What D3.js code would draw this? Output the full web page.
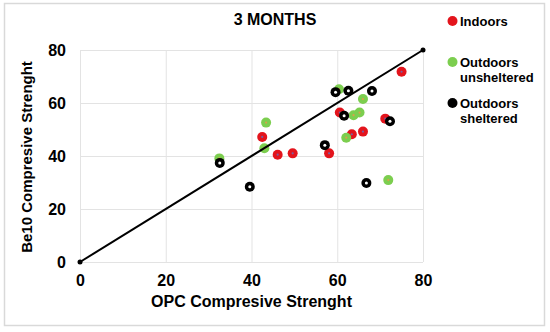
<!DOCTYPE html>
<meta charset="utf-8">
<script src="https://d3js.org/d3.v7.min.js"></script>
<style>
body { margin: 0; background: #fff; }
text { font-family: "Liberation Sans", Arial, sans-serif; font-weight: bold; fill: #000; }
</style>
<body>
<div id="chart"></div>
<script>
// data
var seriesNames = ['Indoors', 'Outdoors unsheltered', 'Outdoors sheltered'];
var indoorsX = [75.0, 42.5, 46.1, 49.6, 58.1, 60.6, 63.4, 66.0, 71.2];
var indoorsY = [71.8, 47.2, 40.5, 41.0, 41.0, 56.4, 48.2, 49.2, 54.1];
var unshelteredX = [32.5, 43.4, 43.0, 60.4, 66.0, 63.8, 65.2, 62.1, 71.9];
var unshelteredY = [39.1, 52.6, 42.9, 65.2, 61.5, 55.4, 56.4, 46.9, 30.9];
var shelteredX = [32.6, 39.6, 57.1, 59.6, 62.6, 68.1, 61.6, 72.3, 66.8];
var shelteredY = [37.4, 28.4, 44.1, 64.1, 64.6, 64.5, 55.2, 53.1, 29.8];
var lineX = [0, 80];
var lineY = [0, 80];
var tickValues = [0, 20, 40, 60, 80];

var W = 550, H = 332;
var margin = {left: 80, right: 127, top: 50, bottom: 70};

var svg = d3.select('#chart').append('svg')
    .attr('width', W)
    .attr('height', H);

// outer frame
svg.append('rect')
    .attr('x', 4.5).attr('y', 3.5)
    .attr('width', 540).attr('height', 322)
    .attr('fill', 'none')
    .attr('stroke', '#d9d9d9')
    .attr('stroke-width', 1.5);

var x = d3.scaleLinear().domain([0, 80]).range([margin.left, W - margin.right]);
var y = d3.scaleLinear().domain([0, 80]).range([H - margin.bottom, margin.top]);

// grid
var xAxis = d3.axisBottom(x).tickValues(tickValues).tickSize(-(y(0) - y(80))).tickPadding(10);
var yAxis = d3.axisLeft(y).tickValues(tickValues).tickSize(-(x(80) - x(0))).tickPadding(14);

var gx = svg.append('g')
    .attr('transform', 'translate(0,' + y(0) + ')')
    .call(xAxis);
var gy = svg.append('g')
    .attr('transform', 'translate(' + x(0) + ',0)')
    .call(yAxis);

[gx, gy].forEach(function(g) {
    g.select('.domain').remove();
    g.selectAll('line').attr('stroke', '#e3e3e3').attr('stroke-width', 1);
    g.selectAll('text').style('font-size', '16px').style('font-weight', 'bold')
        .style('font-family', '"Liberation Sans", Arial, sans-serif').attr('fill', '#000');
});
gx.selectAll('text').attr('dy', '0.71em').attr('y', 13);
gy.selectAll('text').attr('x', -14);

// series
var series = [
    {name: seriesNames[0], xs: indoorsX, ys: indoorsY, color: '#e3141c', center: '#7a5fa0', cr: 1.1},
    {name: seriesNames[1], xs: unshelteredX, ys: unshelteredY, color: '#7cce4f', center: '#d9a04a', cr: 1.1},
    {name: seriesNames[2], xs: shelteredX, ys: shelteredY, color: '#000000', center: '#ffffff', cr: 1.5}
];

series.forEach(function(s) {
    var pts = s.xs.map(function(v, i) { return {x: v, y: s.ys[i]}; });
    var g = svg.append('g');
    g.selectAll('circle.m')
        .data(pts)
        .enter()
        .append('circle')
        .attr('class', 'm')
        .attr('cx', function(d) { return x(d.x); })
        .attr('cy', function(d) { return y(d.y); })
        .attr('r', 5)
        .attr('fill', s.color);
    g.selectAll('circle.c')
        .data(pts)
        .enter()
        .append('circle')
        .attr('class', 'c')
        .attr('cx', function(d) { return x(d.x); })
        .attr('cy', function(d) { return y(d.y); })
        .attr('r', s.cr)
        .attr('fill', s.center);
});

// 1:1 line
var linePts = lineX.map(function(v, i) { return {x: v, y: lineY[i]}; });
svg.append('path')
    .datum(linePts)
    .attr('fill', 'none')
    .attr('stroke', '#000')
    .attr('stroke-width', 2)
    .attr('d', d3.line().x(function(d) { return x(d.x); }).y(function(d) { return y(d.y); }));
svg.selectAll('.enddot')
    .data(linePts)
    .enter()
    .append('circle')
    .attr('cx', function(d) { return x(d.x); })
    .attr('cy', function(d) { return y(d.y); })
    .attr('r', 2.5)
    .attr('fill', '#000');

// titles
svg.append('text')
    .text('3 MONTHS')
    .attr('x', 275)
    .attr('y', 25)
    .attr('text-anchor', 'middle')
    .style('font-size', '16px');

svg.append('text')
    .text('OPC Compresive Strenght')
    .attr('x', (x(0) + x(80)) / 2)
    .attr('y', 307)
    .attr('text-anchor', 'middle')
    .style('font-size', '16px');

svg.append('text')
    .text('Be10 Compresive Strenght')
    .attr('transform', 'translate(32,' + 157 + ') rotate(-90)')
    .attr('text-anchor', 'middle')
    .style('font-size', '15px');

// legend
var legendRows = [
    {lines: ['Indoors'], cy: 21},
    {lines: ['Outdoors', 'unsheltered'], cy: 62},
    {lines: ['Outdoors', 'sheltered'], cy: 103}
];
legendRows.forEach(function(r, i) {
    svg.append('circle')
        .attr('cx', 452.5)
        .attr('cy', r.cy)
        .attr('r', 5)
        .attr('fill', series[i].color);
    r.lines.forEach(function(t, j) {
        svg.append('text')
            .text(t)
            .attr('x', 460)
            .attr('y', r.cy + 5 + j * 15)
            .style('font-size', '13px');
    });
});
</script>
</body>
</html>
